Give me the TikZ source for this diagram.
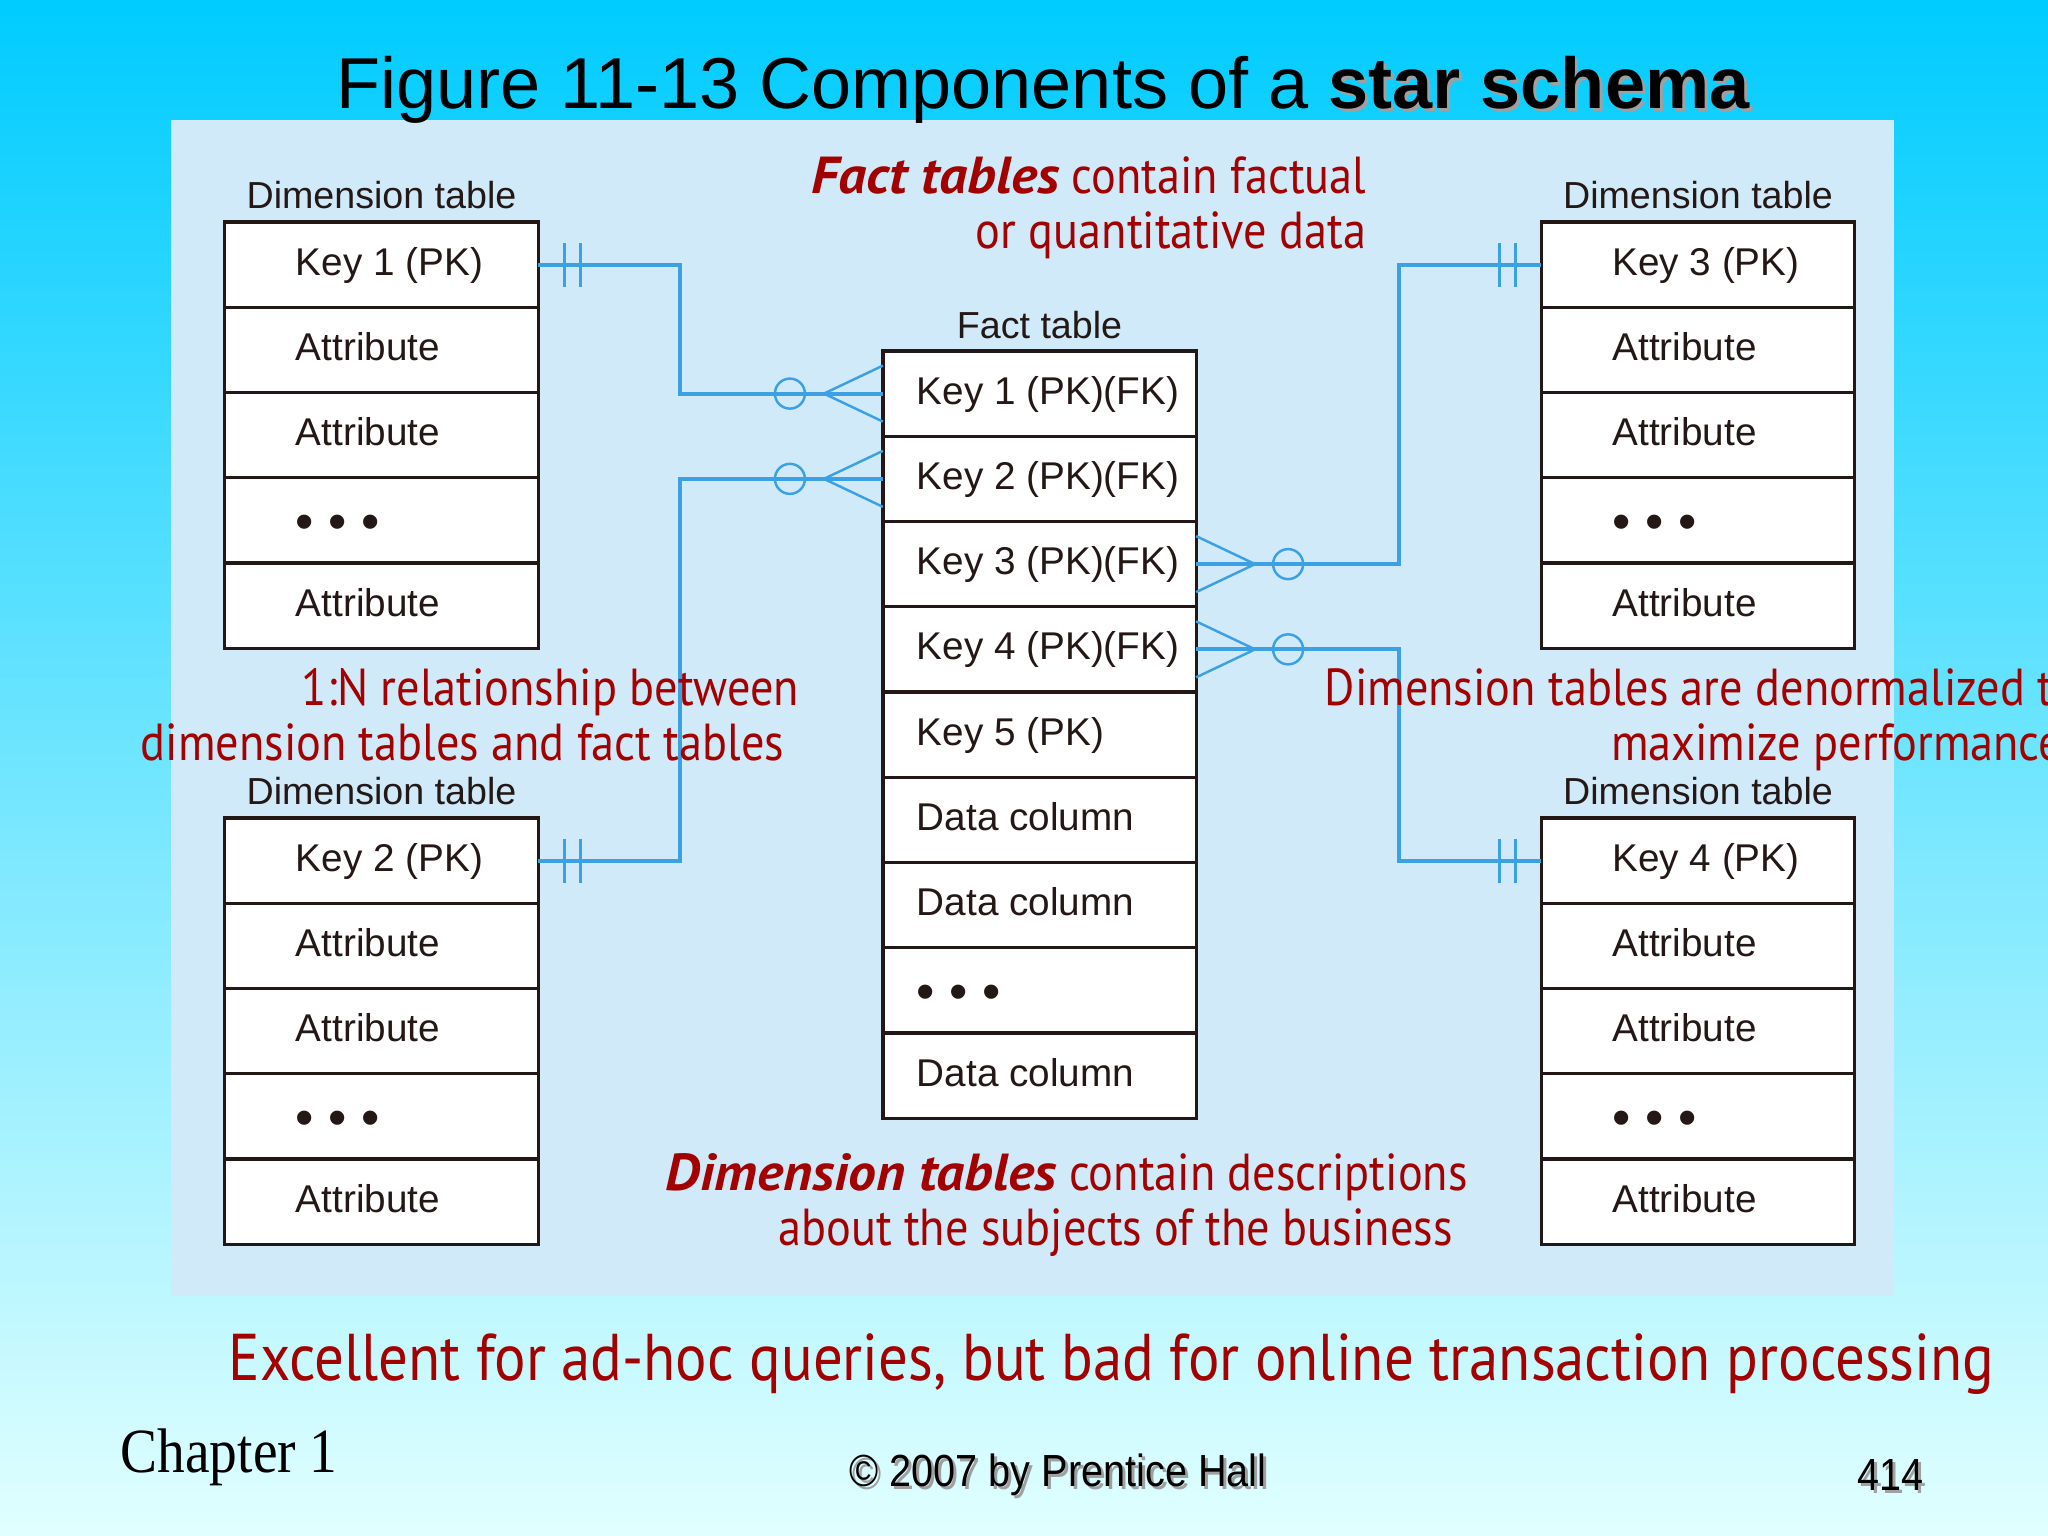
\documentclass[tikz,border=0pt]{standalone}
\usepackage{fontspec}
\setmainfont{Liberation Sans}
\newfontfamily\notefont[FakeStretch=0.89]{PT Sans}
\newfontfamily\noteemph[FakeStretch=1.07]{PT Sans}
\newfontfamily\footfont[FakeStretch=0.88]{Liberation Sans}
\newfontfamily\chapfont[FakeStretch=0.88]{Liberation Serif}
\usetikzlibrary{positioning, calc}

\definecolor{skytop}{RGB}{0,204,255}
\definecolor{skybottom}{RGB}{225,255,255}
\definecolor{panelblue}{RGB}{208,234,250}
\definecolor{linkblue}{RGB}{60,160,228}
\definecolor{notered}{RGB}{163,0,0}
\definecolor{tableline}{RGB}{35,24,21}
\definecolor{shadowgray}{RGB}{160,160,160}

\newcommand{\shadowed}[1]{\makebox[0pt][l]{\hspace{0.03cm}\raisebox{-0.03cm}{\color{shadowgray}#1}}#1}
\newcommand{\rowdot}{\raisebox{-0.09cm}{\scalebox{1.35}{\textbullet}}}
\newcommand{\rowdots}{\rowdot\hspace{0.147cm}\rowdot\hspace{0.147cm}\rowdot}
\newcommand{\emphnote}[1]{{\noteemph\bfseries\itshape #1}}
\newcommand{\tailgap}{\hspace*{0.15cm}}

\begin{document}
\begin{tikzpicture}[
    x=0.01cm, y=-0.01cm,
    cell/.style={draw=tableline, line width=0.9pt, fill=white, outer sep=0pt,
        minimum width=3.13cm, minimum height=0.852cm, inner xsep=0pt,
        text width=3.13cm, align=flush left, text height=0.29cm, text depth=0.08cm,
        text=tableline, font=\fontsize{11pt}{13pt}\selectfont},
    dimcell/.style={cell, execute at begin node={\hspace*{0.71cm}}},
    factcell/.style={cell, execute at begin node={\hspace*{0.34cm}}},
    caption/.style={inner sep=0pt, text=tableline, font=\fontsize{10.7pt}{12pt}\selectfont},
    link/.style={draw=linkblue, line width=1.1pt},
    foot/.style={draw=linkblue, line width=0.7pt},
    hash/.style={draw=linkblue, line width=0.9pt},
    note/.style={text=notered, align=right, inner sep=0pt,
        font=\notefont\fontsize{14.8pt}{15.6pt}\selectfont}
]

% Fondo de la diapositiva
\useasboundingbox (0,0) rectangle (2048,1536);
\clip (0,0) rectangle (2048,1536);
\shade[top color=skytop, bottom color=skybottom] (0,0) rectangle (2048,1536);
\fill[panelblue] (171,120) rectangle (1894,1296);

% Titulo
\node[anchor=base, font=\fontsize{20.5pt}{24pt}\selectfont] (title) at (1043,108)
{Figure 11-13 Components of a \textbf{\shadowed{star schema}}};

% Tablas de dimension
\foreach \t/\x/\y/\k in {d1/381.5/264.6/1, d2/381.5/860.6/2, d3/1698/264.6/3, d4/1698/860.6/4} {
    \node[dimcell] (\t-key) at (\x,\y) {Key \k\ (PK)};
    \node[dimcell, below=0pt of \t-key] (\t-r2) {Attribute};
    \node[dimcell, below=0pt of \t-r2] (\t-r3) {Attribute};
    \node[dimcell, below=0pt of \t-r3] (\t-r4) {\rowdots};
    \node[dimcell, below=0pt of \t-r4] (\t-r5) {Attribute};
    \node[caption, above=0.12cm of \t-key] (\t-cap) {Dimension table};
}

% Tabla de hechos
\node[factcell] (f1) at (1039.5,393.6) {Key 1 (PK)(FK)};
\node[factcell, below=0pt of f1] (f2) {Key 2 (PK)(FK)};
\node[factcell, below=0pt of f2] (f3) {Key 3 (PK)(FK)};
\node[factcell, below=0pt of f3] (f4) {Key 4 (PK)(FK)};
\node[factcell, below=0pt of f4] (f5) {Key 5 (PK)};
\node[factcell, below=0pt of f5] (f6) {Data column};
\node[factcell, below=0pt of f6] (f7) {Data column};
\node[factcell, below=0pt of f7] (f8) {\rowdots};
\node[factcell, below=0pt of f8] (f9) {Data column};
\node[caption, above=0.11cm of f1] (fcap) {Fact table};

% Relaciones 1:N
\coordinate (lbend) at (680,0);
\coordinate (rbend) at (1399,0);
\draw[link] (d1-key.east) -| (lbend |- f1.west) -- (f1.west);
\draw[link] (d2-key.east) -| (lbend |- f2.west) -- (f2.west);
\draw[link] (f3.east) -| (rbend |- d3-key.west) -- (d3-key.west);
\draw[link] (f4.east) -| (rbend |- d4-key.west) -- (d4-key.west);

% Pata de gallo y circulo (lado N)
\foreach \f in {f1,f2} {
    \draw[foot] ($(\f.west)+(0,-28)$) -- ($(\f.west)+(-59,0)$) -- ($(\f.west)+(0,28)$);
    \draw[foot] ($(\f.west)+(-93,0)$) circle[radius=0.15cm];
}
\foreach \f in {f3,f4} {
    \draw[foot] ($(\f.east)+(0,-28)$) -- ($(\f.east)+(59,0)$) -- ($(\f.east)+(0,28)$);
    \draw[foot] ($(\f.east)+(92,0)$) circle[radius=0.15cm];
}

% Doble raya (lado 1)
\foreach \d in {d1,d2} {
    \draw[hash] ($(\d-key.east)+(26,-22)$) -- ++(0,44);
    \draw[hash] ($(\d-key.east)+(42,-22)$) -- ++(0,44);
}
\foreach \d in {d3,d4} {
    \draw[hash] ($(\d-key.west)+(-26,-22)$) -- ++(0,44);
    \draw[hash] ($(\d-key.west)+(-42,-22)$) -- ++(0,44);
}

% Notas
\node[note, anchor=west] (factnote) at (811,208)
{\emphnote{Fact tables} contain factual\\or quantitative data};
\node[note, anchor=west] (relnote) at (140,715)
{1:N relationship between\\dimension tables and fact tables\tailgap};
\node[note, anchor=west] (denormnote) at (1324,720)
{Dimension tables are denormalized to\\maximize performance\tailgap};
\node[note, anchor=west] (dimnote) at (665,1205)
{\emphnote{Dimension tables} contain descriptions\\about the subjects of the business\tailgap};
\node[note, font=\notefont\fontsize{18.8pt}{20pt}\selectfont] (olapnote) at (1111.5,1364)
{Excellent for ad-hoc queries, but bad for online transaction processing};

% Pie
\node[anchor=base west, inner sep=0pt, font=\chapfont\fontsize{17.9pt}{20pt}\selectfont] (chapter) at (120,1472) {Chapter 1};
\node[anchor=base, inner sep=0pt, font=\footfont\fontsize{12.8pt}{15pt}\selectfont] (publisher) at (1058,1486) {\shadowed{© 2007 by Prentice Hall}};
\node[anchor=base east, inner sep=0pt, font=\footfont\fontsize{12.8pt}{15pt}\selectfont] (pageno) at (1924,1490) {\shadowed{414}};

\end{tikzpicture}
\end{document}
